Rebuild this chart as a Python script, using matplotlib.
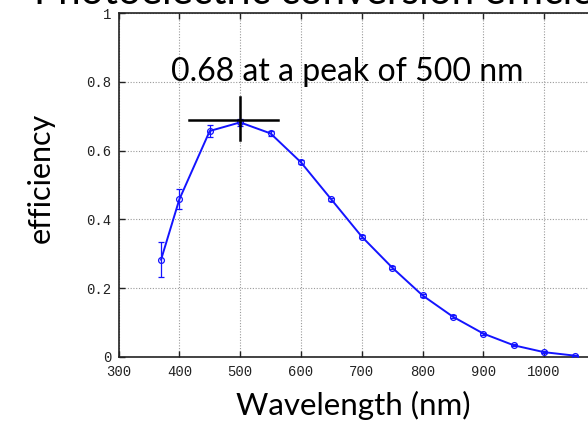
import matplotlib
matplotlib.use("Agg")
import matplotlib.pyplot as plt

# data
wavelength = [370, 400, 450, 500, 550, 600, 650, 700, 750, 800, 850, 900, 950, 1000, 1050]
efficiency = [0.283, 0.458, 0.657, 0.682, 0.650, 0.566, 0.458, 0.350, 0.260, 0.179, 0.117, 0.068, 0.034, 0.014, 0.004]
error = [0.050, 0.029, 0.018, 0.010, 0.008, 0.006, 0.004, 0.004, 0.004, 0.004, 0.004, 0.003, 0.003, 0.003, 0.002]
x_ticks = [300, 400, 500, 600, 700, 800, 900, 1000, 1100]
x_tick_labels = ["300", "400", "500", "600", "700", "800", "900", "1000", "1100"]
y_ticks = [0, 0.2, 0.4, 0.6, 0.8, 1.0]
y_tick_labels = ["0", "0.2", "0.4", "0.6", "0.8", "1"]
peak_x = 500
peak_y = 0.69
title = "Photoelectric conversion efficiency"
annotation = "0.68 at a peak of 500 nm"
x_label = "Wavelength (nm)"
y_label = "efficiency"

W, H = 588, 421
fig = plt.figure(figsize=(W / 100, H / 100), dpi=100)
ax = fig.add_axes([118.5 / W, (H - 357) / H, (605 - 118.5) / W, (357 - 13) / H])

blue = "#1414ff"
ax.errorbar(wavelength, efficiency, yerr=error, color=blue, lw=1.4,
            marker="o", ms=4.2, mfc="none", mec=blue, mew=0.9,
            ecolor=blue, elinewidth=0.9, capsize=2.2, capthick=0.9, zorder=3)

# crosshair at peak
ax.plot([peak_x - 84, peak_x + 63], [peak_y, peak_y], color="black", lw=1.8, zorder=4)
ax.plot([peak_x, peak_x], [peak_y - 0.059, peak_y + 0.065], color="black", lw=1.8, zorder=4)

ax.set_xlim(300, 1100)
ax.set_ylim(0, 1)
ax.set_xticks(x_ticks)
ax.set_xticklabels(x_tick_labels)
ax.set_yticks(y_ticks)
ax.set_yticklabels(y_tick_labels)
for lab in ax.get_xticklabels() + ax.get_yticklabels():
    lab.set_fontfamily("Liberation Mono")
    lab.set_fontsize(10)
    lab.set_color("#222222")
ax.tick_params(direction="in", length=4.5, width=1.0, top=True, right=True,
               pad=5, color="#222222")
ax.tick_params(axis="x", pad=6)
ax.grid(True, color="#9a9a9a", linestyle=(0, (1, 1.5)), lw=0.8)
for s in ax.spines.values():
    s.set_color("#222222")
    s.set_linewidth(1.2)

ax.text(386, 0.803, annotation, fontsize=23, family="Lato", va="baseline",
        ha="left", color="black", zorder=5)

fig.text(34 / W, (H - 4) / H, title, fontsize=29, family="Lato",
         va="baseline", ha="left", color="black")
fig.text(353 / W, (H - 415) / H, x_label, fontsize=22.5, family="Lato",
         va="baseline", ha="center", color="black")
fig.text(41 / W, (H - 178) / H, y_label, fontsize=22, family="Lato",
         va="center", ha="center", rotation=90, color="black")

fig.savefig("out.png", dpi=100)
